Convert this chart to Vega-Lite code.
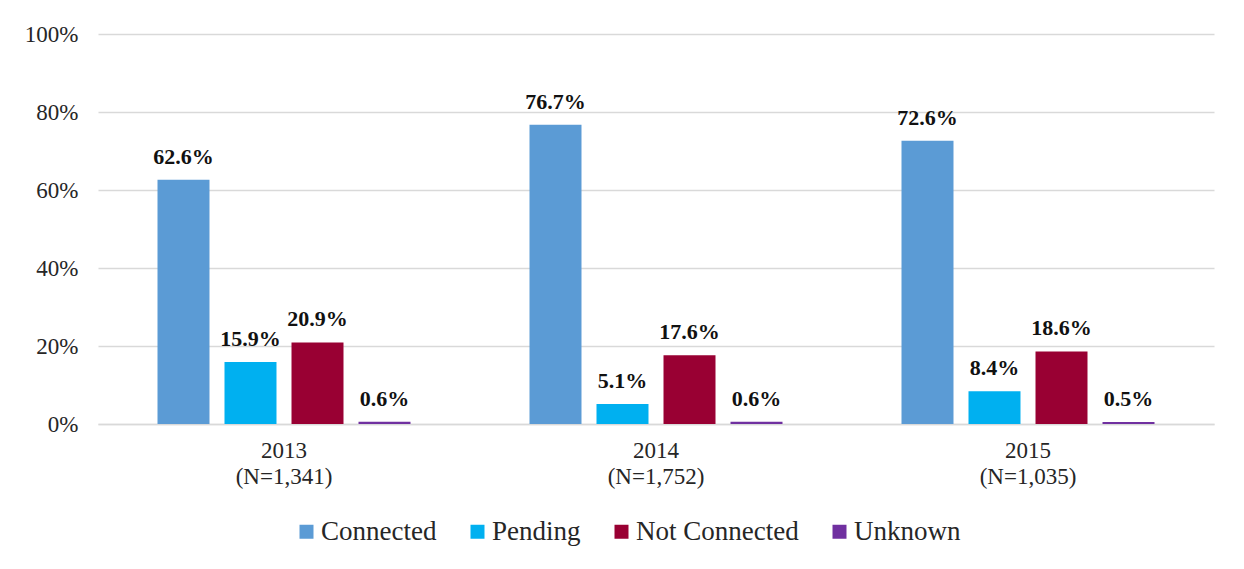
{
  "$schema": "https://vega.github.io/schema/vega-lite/v6.json",
  "width": 1116,
  "height": 390,
  "autosize": "none",
  "padding": {"left": 98, "top": 34, "right": 30, "bottom": 145},
  "background": "white",
  "config": {
    "font": "Liberation Serif",
    "view": {"stroke": null},
    "legend": {"labelFont": "Liberation Serif"},
    "axis": {"labelFont": "Liberation Serif"},
    "text": {"font": "Liberation Serif"}
  },
  "data": {
    "values": [
      {"group": "2013 (N=1,341)", "status": "Connected", "value": 0.626},
      {"group": "2013 (N=1,341)", "status": "Pending", "value": 0.159},
      {"group": "2013 (N=1,341)", "status": "Not Connected", "value": 0.209},
      {"group": "2013 (N=1,341)", "status": "Unknown", "value": 0.006},
      {"group": "2014 (N=1,752)", "status": "Connected", "value": 0.767},
      {"group": "2014 (N=1,752)", "status": "Pending", "value": 0.051},
      {"group": "2014 (N=1,752)", "status": "Not Connected", "value": 0.176},
      {"group": "2014 (N=1,752)", "status": "Unknown", "value": 0.006},
      {"group": "2015 (N=1,035)", "status": "Connected", "value": 0.726},
      {"group": "2015 (N=1,035)", "status": "Pending", "value": 0.084},
      {"group": "2015 (N=1,035)", "status": "Not Connected", "value": 0.186},
      {"group": "2015 (N=1,035)", "status": "Unknown", "value": 0.005}
    ]
  },
  "encoding": {
    "x": {
      "field": "group",
      "type": "nominal",
      "sort": null,
      "scale": {"paddingInner": 0, "paddingOuter": 0},
      "axis": {
        "title": null,
        "labelAngle": 0,
        "labelExpr": "split(datum.label, ' ')",
        "domainColor": "#d9d9d9",
        "domainWidth": 1.5,
        "ticks": false,
        "tickSize": 0,
        "labelFontSize": 23,
        "labelColor": "#262626",
        "labelPadding": 15,
        "labelLineHeight": 26,
        "labelBaseline": "top"
      }
    },
    "xOffset": {
      "field": "status",
      "type": "nominal",
      "sort": ["Connected", "Pending", "Not Connected", "Unknown"],
      "scale": {"paddingInner": 0.224, "paddingOuter": 0.888}
    },
    "y": {
      "field": "value",
      "type": "quantitative",
      "scale": {"domain": [0, 1]},
      "axis": {
        "title": null,
        "values": [0, 0.2, 0.4, 0.6, 0.8, 1],
        "format": ".0%",
        "domain": false,
        "ticks": false,
        "tickSize": 0,
        "labelPadding": 20,
        "labelFontSize": 23,
        "labelColor": "#262626",
        "gridColor": "#d9d9d9",
        "gridWidth": 1.5
      }
    }
  },
  "layer": [
    {
      "mark": {"type": "bar"},
      "encoding": {
        "color": {
          "field": "status",
          "type": "nominal",
          "sort": ["Connected", "Pending", "Not Connected", "Unknown"],
          "scale": {
            "domain": ["Connected", "Pending", "Not Connected", "Unknown"],
            "range": ["#5B9BD5", "#00B0F0", "#990033", "#7030A0"]
          },
          "legend": {
            "title": null,
            "orient": "none",
            "direction": "horizontal",
            "legendX": 195,
            "legendY": 484,
            "padding": 0,
            "symbolType": "square",
            "symbolSize": 196,
            "symbolStrokeWidth": 0,
            "labelFont": "Liberation Serif",
            "labelFontSize": 27,
            "labelLimit": 400,
            "labelColor": "#262626",
            "labelOffset": 1,
            "columnPadding": 27
          }
        }
      }
    },
    {
      "mark": {"type": "text", "font": "Liberation Serif", "baseline": "alphabetic", "dy": -16, "fontWeight": "bold", "fontSize": 22, "color": "#111111"},
      "encoding": {
        "text": {"field": "value", "type": "quantitative", "format": ".1%"}
      }
    }
  ]
}
